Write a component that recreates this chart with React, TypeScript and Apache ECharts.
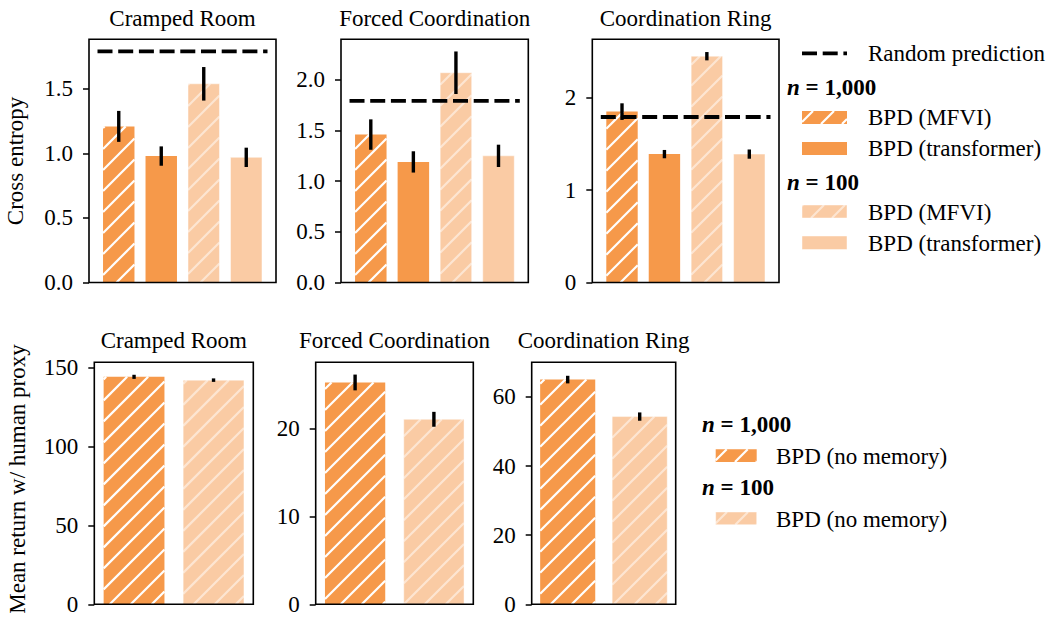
import React, { useEffect, useRef } from "react";
import * as echarts from "echarts";

// ---------- data ----------
const panelNames = ["Cramped Room", "Forced Coordination", "Coordination Ring"];
const randomPrediction = 1.792;

const ceMfvi1000 = [1.21, 1.46, 1.85];
const ceMfvi1000Err = [0.12, 0.15, 0.09];
const ceTrans1000 = [0.98, 1.19, 1.39];
const ceTrans1000Err = [0.075, 0.105, 0.045];
const ceMfvi100 = [1.54, 2.07, 2.45];
const ceMfvi100Err = [0.13, 0.21, 0.045];
const ceTrans100 = [0.97, 1.25, 1.39];
const ceTrans100Err = [0.075, 0.11, 0.05];

const retNoMem1000 = [144.1, 25.3, 65.0];
const retNoMem1000Err = [1.3, 0.9, 1.1];
const retNoMem100 = [142.0, 21.1, 54.3];
const retNoMem100Err = [1.1, 0.85, 1.2];

const topYTicks = [[0, 0.5, 1.0, 1.5], [0, 0.5, 1.0, 1.5, 2.0], [0, 1, 2]];
const topYDecimals = [1, 1, 0];
const topYMax = [1.885, 2.4, 2.633];
const bottomYTicks = [[0, 50, 100, 150], [0, 10, 20], [0, 20, 40, 60]];
const bottomYMax = [153.3, 27.6, 70];

const legendTop = ["Random prediction", "BPD (MFVI)", "BPD (transformer)"];
const legendBottom = ["BPD (no memory)"];
const groupLabels = ["1,000", "100"];

// ---------- style ----------
const DARK = "#F6994A";
const LIGHT = "#FACBA4";
const FONT = '"Liberation Serif", "Times New Roman", serif';
const FS = 23;
const HATCH_P = 21;
const DASH = [15, 5.7];

const topGrids = [
  { left: 89, top: 39.3, width: 187, height: 243.2 },
  { left: 341, top: 39.3, width: 187.3, height: 243.2 },
  { left: 592.3, top: 39.3, width: 186.7, height: 243.2 },
];
const bottomGrids = [
  { left: 94.3, top: 362.3, width: 159, height: 242 },
  { left: 315.7, top: 362.3, width: 157.6, height: 242 },
  { left: 531.7, top: 362.3, width: 144, height: 242 },
];

function hatchSegments(x0: number, y0: number, x1: number, y1: number, P: number) {
  const segs: number[][] = [];
  const cMin = Math.ceil((x0 + y0) / P) * P;
  for (let c = cMin; c <= x1 + y1; c += P) {
    const xs = Math.max(x0, c - y1);
    const xe = Math.min(x1, c - y0);
    if (xe > xs) segs.push([xs, c - xs, xe, c - xe]);
  }
  return segs;
}

function barShapes(x0: number, y0: number, x1: number, y1: number, kind: number) {
  const fill = kind < 2 ? DARK : LIGHT;
  const hatched = kind === 0 || kind === 2;
  const children: any[] = [
    {
      type: "rect",
      shape: { x: x0, y: y0, width: x1 - x0, height: y1 - y0 },
      style: {
        fill,
        stroke: kind >= 2 ? "rgba(255,255,255,0.45)" : null,
        lineWidth: kind >= 2 ? 1 : 0,
      },
    },
  ];
  if (hatched) {
    const col = kind === 0 ? "#ffffff" : "rgba(255,255,255,0.5)";
    for (const s of hatchSegments(x0, y0, x1, y1, HATCH_P)) {
      children.push({
        type: "line",
        shape: { x1: s[0], y1: s[1], x2: s[2], y2: s[3] },
        style: { stroke: col, lineWidth: 2.2 },
      });
    }
  }
  return children;
}

function makeRender(width: number) {
  return (params: any, api: any) => {
    const x = api.value(0);
    const v = api.value(1);
    const e = api.value(2);
    const kind = api.value(3);
    const a = api.coord([x - width / 2, v]);
    const b = api.coord([x + width / 2, 0]);
    const children = barShapes(a[0], a[1], b[0], b[1], kind);
    const t = api.coord([x, v + e]);
    const u = api.coord([x, v - e]);
    children.push({
      type: "line",
      shape: { x1: t[0], y1: t[1], x2: u[0], y2: u[1] },
      style: { stroke: "#000", lineWidth: 3.4 },
    });
    return { type: "group", children };
  };
}

function textEl(text: string, x: number, y: number, align = "left", extra: any = {}) {
  return {
    type: "text",
    x,
    y,
    ...extra,
    style: {
      text,
      fontFamily: FONT,
      fontSize: FS,
      fill: "#000",
      align,
      verticalAlign: "middle",
    },
  };
}

function groupLabel(n: string, x: number, y: number) {
  return {
    type: "text",
    x,
    y,
    style: {
      text: "{i|n} = " + n,
      fontFamily: FONT,
      fontSize: FS,
      fontWeight: "bold",
      fill: "#000",
      align: "left",
      verticalAlign: "middle",
      rich: {
        i: { fontFamily: FONT, fontSize: FS, fontWeight: "bold", fontStyle: "italic", fill: "#000" },
      },
    },
  };
}

function patch(x: number, y: number, w: number, h: number, kind: number) {
  return { type: "group", children: barShapes(x, y, x + w, y + h, kind) };
}

export default function App() {
  const ref = useRef<HTMLDivElement>(null);
  useEffect(() => {
    if (!ref.current) return;
    const chart = echarts.init(ref.current, null, { renderer: "svg" });

    const grids: any[] = [];
    const xAxes: any[] = [];
    const yAxes: any[] = [];
    const series: any[] = [];

    const addPanel = (g: any, xmin: number, xmax: number, ymax: number, ticks: number[], dec: number) => {
      const idx = grids.length;
      grids.push({ ...g, show: true, borderColor: "#000", borderWidth: 1.6, backgroundColor: "transparent", z: 3 });
      xAxes.push({
        type: "value", gridIndex: idx, min: xmin, max: xmax,
        axisLine: { show: false, onZero: false }, axisTick: { show: false }, axisLabel: { show: false },
        splitLine: { show: false },
      });
      yAxes.push({
        type: "value", gridIndex: idx, min: 0, max: ymax, position: "left",
        axisLine: { show: false, onZero: false },
        splitLine: { show: false },
        axisTick: { show: true, length: 6, customValues: ticks, lineStyle: { color: "#000", width: 1.5 } },
        axisLabel: {
          show: true, customValues: ticks, margin: 16,
          formatter: (v: number) => v.toFixed(dec),
          fontFamily: FONT, fontSize: FS, color: "#000",
        },
      });
      return idx;
    };

    for (let i = 0; i < 3; i++) {
      const idx = addPanel(topGrids[i], -0.7, 3.7, topYMax[i], topYTicks[i], topYDecimals[i]);
      series.push({
        type: "custom", xAxisIndex: idx, yAxisIndex: idx, renderItem: makeRender(0.74), z: 2,
        data: [
          [0, ceMfvi1000[i], ceMfvi1000Err[i], 0],
          [1, ceTrans1000[i], ceTrans1000Err[i], 1],
          [2, ceMfvi100[i], ceMfvi100Err[i], 2],
          [3, ceTrans100[i], ceTrans100Err[i], 3],
        ],
      });
      series.push({
        type: "line", xAxisIndex: idx, yAxisIndex: idx, symbol: "none", z: 5, silent: true,
        data: [[-0.5, randomPrediction], [3.5, randomPrediction]],
        lineStyle: { color: "#000", width: 3.8, type: DASH },
      });
    }
    for (let i = 0; i < 3; i++) {
      const idx = addPanel(bottomGrids[i], -0.5, 1.5, bottomYMax[i], bottomYTicks[i], 0);
      series.push({
        type: "custom", xAxisIndex: idx, yAxisIndex: idx, renderItem: makeRender(0.765), z: 2,
        data: [
          [0, retNoMem1000[i], retNoMem1000Err[i], 0],
          [1, retNoMem100[i], retNoMem100Err[i], 2],
        ],
      });
    }

    const graphic: any[] = [];
    for (let i = 0; i < 3; i++) {
      const g = topGrids[i];
      graphic.push(textEl(panelNames[i], g.left + g.width / 2, 18, "center"));
      const h = bottomGrids[i];
      graphic.push(textEl(panelNames[i], h.left + h.width / 2, 340, "center"));
    }
    graphic.push(textEl("Cross entropy", 15, 161, "center", { rotation: Math.PI / 2 }));
    graphic.push(textEl("Mean return w/ human proxy", 17, 479, "center", { rotation: Math.PI / 2 }));

    // top legend
    graphic.push({
      type: "line",
      shape: { x1: 802, y1: 53.3, x2: 847, y2: 53.3 },
      style: { stroke: "#000", lineWidth: 3.8, lineDash: DASH },
    });
    graphic.push(textEl(legendTop[0], 868, 53));
    graphic.push(groupLabel(groupLabels[0], 787, 87));
    graphic.push(patch(802, 111, 45, 13, 0));
    graphic.push(textEl(legendTop[1], 868, 117));
    graphic.push(patch(802, 142, 45, 13, 1));
    graphic.push(textEl(legendTop[2], 868, 148));
    graphic.push(groupLabel(groupLabels[1], 787, 182));
    graphic.push(patch(802, 205, 45, 13, 2));
    graphic.push(textEl(legendTop[1], 868, 212));
    graphic.push(patch(802, 236, 45, 13.5, 3));
    graphic.push(textEl(legendTop[2], 868, 243));

    // bottom legend
    graphic.push(groupLabel(groupLabels[0], 702, 424));
    graphic.push(patch(715.7, 449.3, 41, 12.7, 0));
    graphic.push(textEl(legendBottom[0], 776, 456));
    graphic.push(groupLabel(groupLabels[1], 702, 487));
    graphic.push(patch(715.7, 512, 41, 12.7, 2));
    graphic.push(textEl(legendBottom[0], 776, 519));

    chart.setOption({
      animation: false,
      backgroundColor: "#fff",
      grid: grids,
      xAxis: xAxes,
      yAxis: yAxes,
      series,
      graphic,
    });
    return () => chart.dispose();
  }, []);

  return (
    <div
      ref={ref}
      style={{ position: "fixed", left: 0, top: 0, width: 1053, height: 619, background: "#fff" }}
    />
  );
}
